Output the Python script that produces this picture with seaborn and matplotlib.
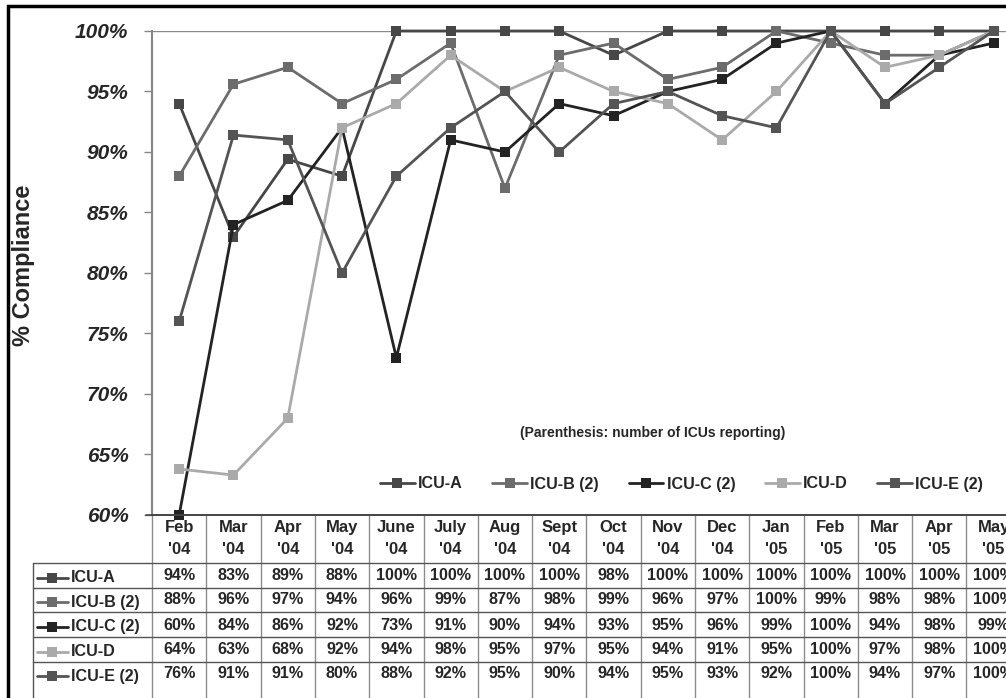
import numpy as np
import pandas as pd
import seaborn as sns
import matplotlib.pyplot as plt
from matplotlib.lines import Line2D
from matplotlib.patches import Rectangle
from matplotlib.transforms import blended_transform_factory

# Months (table header) and series values
months = ["Feb\n'04", "Mar\n'04", "Apr\n'04", "May\n'04", "June\n'04", "July\n'04",
          "Aug\n'04", "Sept\n'04", "Oct\n'04", "Nov\n'04", "Dec\n'04", "Jan\n'05",
          "Feb\n'05", "Mar\n'05", "Apr\n'05", "May\n'05"]
icu_names = ["ICU-A", "ICU-B (2)", "ICU-C (2)", "ICU-D", "ICU-E (2)"]

icu_a = [94, 83, 89.4, 88, 100, 100, 100, 100, 98, 100, 100, 100, 100, 100, 100, 100]
icu_b = [88, 95.6, 97, 94, 96, 99, 87, 98, 99, 96, 97, 100, 99, 98, 98, 100]
icu_c = [60, 84, 86, 92, 73, 91, 90, 94, 93, 95, 96, 99, 100, 94, 98, 99]
icu_d = [63.8, 63.3, 68, 92, 94, 98, 95, 97, 95, 94, 91, 95, 100, 97, 98, 100]
icu_e = [76, 91.4, 91, 80, 88, 92, 95, 90, 94, 95, 93, 92, 100, 94, 97, 100]

colors = ["#474747", "#6c6c6c", "#232323", "#aaaaaa", "#545454"]

series = [icu_a, icu_b, icu_c, icu_d, icu_e]
df = pd.DataFrame({
    "idx": np.tile(np.arange(len(months)), len(icu_names)),
    "unit": np.repeat(icu_names, len(months)),
    "value": np.concatenate(series),
})

sns.set_theme(style="white")
plt.rcParams["font.family"] = ["Liberation Sans", "DejaVu Sans"]

W, H = 1006, 698
fig = plt.figure(figsize=(W / 100, H / 100), dpi=100)
fig.patch.set_facecolor("white")


def fx(px):
    return px / W


def fy(px):
    return 1 - px / H


col_w = 54.3
ax = fig.add_axes([fx(152), fy(515), fx(16 * col_w), (515 - 31) / H])
ax.set_facecolor("white")

sns.lineplot(data=df, x="idx", y="value", hue="unit", hue_order=icu_names,
             palette=dict(zip(icu_names, colors)), marker="s", markersize=7.5,
             markeredgewidth=0, linewidth=2.0, legend=False, clip_on=False, ax=ax)

ax.set_xlim(-0.5, len(months) - 0.5)
ax.set_ylim(60, 100)
yt = list(range(60, 101, 5))
ax.set_yticks(yt)
ax.set_yticklabels([f"{v}%" for v in yt], fontsize=15, fontweight="bold", fontstyle="italic")
ax.tick_params(axis="y", length=6, width=1, color="#868686", pad=11, left=True)
ax.set_xticks(range(len(months)))
ax.set_xticklabels(months, fontsize=12, fontweight="bold")
for t in ax.get_xticklabels():
    t.set_linespacing(1.6)
ax.tick_params(axis="x", length=0, pad=3.5)
ax.set_xlabel("")
ax.set_ylabel("")
ax.axhline(100, color="#8a8a8a", lw=1, zorder=0)
for s in ["top", "right"]:
    ax.spines[s].set_visible(False)
ax.spines["left"].set_color("#868686")
ax.spines["left"].set_linewidth(1.5)
ax.spines["bottom"].set_color("#444444")
ax.spines["bottom"].set_linewidth(1.2)
ax.grid(False)

# y axis title
fig.text(fx(24), fy(265), "% Compliance", rotation=90, ha="center", va="center",
         fontsize=17, fontweight="bold")

# note and legend inside the plot
fig.text(fx(520), fy(433), "(Parenthesis: number of ICUs reporting)", ha="left",
         va="center", fontsize=10, fontweight="bold")
handles = [Line2D([], [], color=c, marker="s", markersize=7.5, markeredgewidth=0, lw=2.0)
           for c in colors]
fig.legend(handles, icu_names, loc="center left", bbox_to_anchor=(fx(380), fy(484)),
           ncol=5, frameon=False, handlelength=2.15, handletextpad=0.2,
           columnspacing=1.85, borderpad=0, borderaxespad=0,
           prop={"size": 11.6, "weight": "bold"})

# data table under the axis
trans = blended_transform_factory(ax.transData, fig.transFigure)
for i in range(len(months) + 1):
    ax.plot([i - 0.5, i - 0.5], [fy(515), fy(H)], transform=trans,
            color="#8c8c8c", lw=1, clip_on=False)
fig.add_artist(Line2D([fx(146), 1], [fy(515), fy(515)], color="#444444", lw=1.2))
fig.add_artist(Line2D([fx(33), fx(33)], [fy(563), 0], color="#555555", lw=1))
for ypx in [563, 588, 612, 637, 662]:
    fig.add_artist(Line2D([fx(33), 1], [fy(ypx), fy(ypx)], color="#555555", lw=1))

row_centers = [576, 600, 625, 650, 674]
for name, vals, c, ypx in zip(icu_names, series, colors, row_centers):
    fig.add_artist(Line2D([fx(37), fx(52), fx(68)], [fy(ypx + 2)] * 3, color=c, lw=2.0,
                          marker="s", markersize=7.5, markeredgewidth=0, markevery=[1]))
    fig.text(fx(71), fy(ypx + 2), name, ha="left", va="center", fontsize=11.6,
             fontweight="bold")
    for i, v in enumerate(vals):
        ax.text(i, fy(ypx), f"{round(v)}%", transform=trans, ha="center", va="center",
                fontsize=11.6, fontweight="bold", clip_on=False)

# outer frame
fig.add_artist(Rectangle((fx(8), -0.1), 1.2, fy(6) + 0.1, transform=fig.transFigure,
                         fill=False, lw=2.5, ec="black"))

fig.savefig("out.png", dpi=100)
